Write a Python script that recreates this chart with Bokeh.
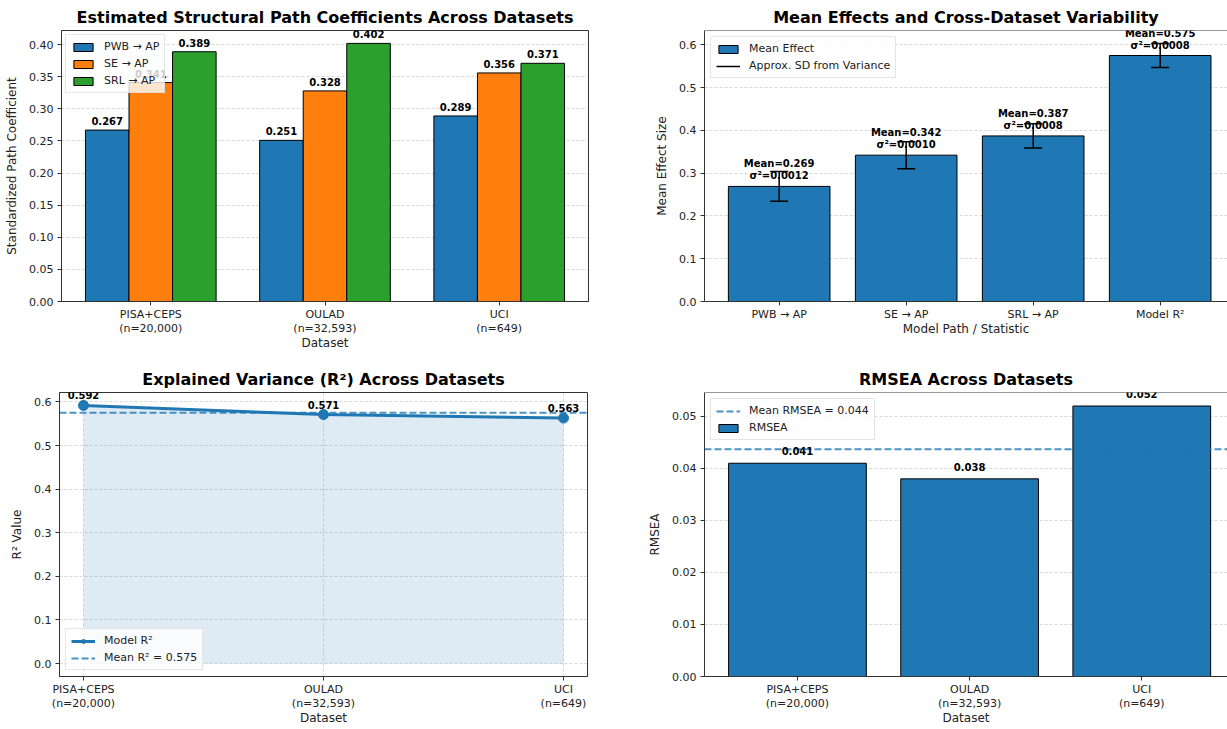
import numpy as np
from bokeh.plotting import figure
from bokeh.layouts import column, row
from bokeh.core.properties import value
from bokeh.models import (ColumnDataSource, LabelSet, Legend, LegendItem, FixedTicker,
                          Span, Whisker, TeeHead, Range1d, NumeralTickFormatter)
from bokeh.embed import file_html
from bokeh.resources import INLINE

FONT = "DejaVu Sans"
SPINE = "#333333"
BLUE, ORANGE, GREEN = "#1f77b4", "#ff7f0e", "#2ca02c"

# ---- data -------------------------------------------------------------
datasets = ["PISA+CEPS\n(n=20,000)", "OULAD\n(n=32,593)", "UCI\n(n=649)"]
path_names = ["PWB → AP", "SE → AP", "SRL → AP"]
pwb_ap = [0.267, 0.251, 0.289]
se_ap = [0.341, 0.328, 0.356]
srl_ap = [0.389, 0.402, 0.371]
coef_yticks = [0.00, 0.05, 0.10, 0.15, 0.20, 0.25, 0.30, 0.35, 0.40]

summary_labels = ["PWB → AP", "SE → AP", "SRL → AP", "Model R²"]
summary_means = [0.269, 0.342, 0.387, 0.575]
summary_vars = [0.0012, 0.0010, 0.0008, 0.0008]
summary_yticks = [0.0, 0.1, 0.2, 0.3, 0.4, 0.5, 0.6]

r2_values = [0.592, 0.571, 0.563]
r2_yticks = [0.0, 0.1, 0.2, 0.3, 0.4, 0.5, 0.6]

rmsea_values = [0.041, 0.038, 0.052]
rmsea_yticks = [0.00, 0.01, 0.02, 0.03, 0.04, 0.05]


def make_fig(title, w, h, bl, br, bt, bb, xr, yr, outline=True):
    p = figure(width=w, height=h, x_range=xr, y_range=yr, output_backend="svg",
               toolbar_location=None, min_border_left=bl, min_border_right=br,
               min_border_top=bt, min_border_bottom=bb)
    p.title.text = title
    p.title.align = "center"
    p.title.text_font = FONT
    p.title.text_font_size = "16px"
    p.title.text_font_style = "bold"
    p.title.text_color = "black"
    p.title.standoff = 7
    p.outline_line_color = SPINE if outline else None
    p.outline_line_width = 1
    if not outline:
        p.add_layout(Span(location=yr.end, dimension="width", line_color=SPINE, line_width=1))
    return p


def setup_axes(p, xticks, xlabels, yticks, yfmt, xlabel, ylabel, xgrid=False):
    p.xaxis.ticker = FixedTicker(ticks=list(xticks))
    p.xaxis.major_label_overrides = {int(t): l for t, l in zip(xticks, xlabels)}
    p.yaxis.ticker = FixedTicker(ticks=list(yticks))
    p.yaxis.formatter = NumeralTickFormatter(format=yfmt)
    p.xaxis.axis_label = xlabel
    p.yaxis.axis_label = ylabel
    for ax in (p.xaxis[0], p.yaxis[0]):
        ax.axis_line_color = SPINE
        ax.major_tick_line_color = SPINE
        ax.major_tick_out = 4
        ax.major_tick_in = 0
        ax.minor_tick_line_color = None
        ax.major_label_text_font = FONT
        ax.major_label_text_font_size = "11px"
        ax.major_label_text_color = "#222222"
        ax.axis_label_text_font = FONT
        ax.axis_label_text_font_size = "12px"
        ax.axis_label_text_font_style = "normal"
        ax.axis_label_text_color = "#222222"
    p.xaxis.major_label_standoff = 2
    p.xaxis.major_label_text_line_height = 1.15
    p.xaxis.axis_label_standoff = -2
    p.yaxis.major_label_standoff = 4
    p.yaxis.axis_label_standoff = 7
    p.ygrid.ticker = FixedTicker(ticks=list(yticks))
    p.ygrid.grid_line_color = "#b0b0b0"
    p.ygrid.grid_line_alpha = 0.5
    p.ygrid.grid_line_dash = "3 2"
    if xgrid:
        p.xgrid.ticker = FixedTicker(ticks=list(xticks))
        p.xgrid.grid_line_color = "#b0b0b0"
        p.xgrid.grid_line_alpha = 0.5
        p.xgrid.grid_line_dash = "3 2"
    else:
        p.xgrid.grid_line_color = None


def style_legend(leg, margin=5):
    leg.label_text_font = FONT
    leg.label_text_font_size = "11px"
    leg.label_text_color = "#222222"
    leg.background_fill_alpha = 0.8
    leg.border_line_color = "#cccccc"
    leg.border_line_width = 1
    leg.margin = margin
    leg.padding = 5
    leg.spacing = 4
    leg.glyph_width = 24
    leg.glyph_height = 10
    leg.label_height = 12
    leg.label_standoff = 9


def value_labels(p, x, y, texts, y_offset, size="10px"):
    src = ColumnDataSource(dict(x=x, y=y, t=texts))
    p.add_layout(LabelSet(x="x", y="y", text="t", source=src, text_align="center",
                          text_baseline="bottom", y_offset=y_offset, text_font=value(FONT),
                          text_font_size=value(size), text_font_style="bold", text_color="black"))


def mean_line(p, level, **kw):
    # horizontal reference line across the full x range at the given level
    xs = [p.x_range.start, p.x_range.end]
    return p.line(x=xs, y=[level, level], line_color=BLUE, line_alpha=0.8, line_width=2,
                  line_dash="7 3", **kw)


idx3 = np.arange(len(datasets))

# ---- panel 1: grouped path coefficients --------------------------------
bar_w = 0.25
p1 = make_fig("Estimated Structural Path Coefficients Across Datasets", 614, 364, 61, 26, 30, 63,
              Range1d(-0.5125, 2.5125), Range1d(0, max(max(pwb_ap), max(se_ap), max(srl_ap)) * 1.05))
setup_axes(p1, idx3, datasets, coef_yticks, "0.00", "Dataset", "Standardized Path Coefficient")
items1 = []
for k, (name, vals, col) in enumerate(zip(path_names, [pwb_ap, se_ap, srl_ap], [BLUE, ORANGE, GREEN])):
    xs = idx3 + (k - 1) * bar_w
    r = p1.vbar(x=xs, top=vals, width=bar_w, fill_color=col, line_color="black", line_width=1)
    items1.append(LegendItem(label=name, renderers=[r]))
    value_labels(p1, xs, vals, [f"{v:.3f}" for v in vals], 5)
leg1 = Legend(items=items1, location="top_left")
style_legend(leg1, 4)
p1.add_layout(leg1)

# ---- panel 2: mean effects with SD whiskers ----------------------------
idx4 = np.arange(len(summary_labels))
means = np.array(summary_means)
sds = np.sqrt(np.array(summary_vars))
p2 = make_fig("Mean Effects and Cross-Dataset Variability", 613, 364, 90, 0, 29, 63,
              Range1d(-0.588, 3.53), Range1d(0, (means + sds).max() * 1.05), outline=False)
setup_axes(p2, idx4, summary_labels, summary_yticks, "0.0", "Model Path / Statistic", "Mean Effect Size")
rb = p2.vbar(x=idx4, top=means, width=0.8, fill_color=BLUE, line_color="black", line_width=1)
err_src = ColumnDataSource(dict(x=idx4, lower=means - sds, upper=means + sds))
rs = p2.segment(x0="x", y0="lower", x1="x", y1="upper", source=err_src, line_color="black", line_width=1.5)
p2.add_layout(Whisker(base="x", lower="lower", upper="upper", source=err_src, line_alpha=0,
                      level="annotation",
                      upper_head=TeeHead(size=18, line_color="black", line_width=1.5),
                      lower_head=TeeHead(size=18, line_color="black", line_width=1.5)))
# two-line annotation: mean on top, variance beneath
value_labels(p2, idx4, means, [f"Mean={m:.3f}" for m in summary_means], 17)
value_labels(p2, idx4, means, [f"σ²={v:.4f}" for v in summary_vars], 5)
leg2 = Legend(items=[LegendItem(label="Mean Effect", renderers=[rb]),
                     LegendItem(label="Approx. SD from Variance", renderers=[rs])], location="top_left")
style_legend(leg2, 6)
p2.add_layout(leg2)

# ---- panel 3: explained variance line ----------------------------------
mean_r2 = float(np.mean(r2_values))
p3 = make_fig("Explained Variance (R²) Across Datasets", 614, 365, 59, 27, 26, 53,
              Range1d(-0.1, 2.1), Range1d(-0.0296, 0.6216))
setup_axes(p3, idx3, datasets, r2_yticks, "0.0", "Dataset", "R² Value", xgrid=True)
p3.varea(x=idx3, y1=np.zeros(len(r2_values)), y2=r2_values, fill_color=BLUE, fill_alpha=0.15)
rdash = mean_line(p3, mean_r2)
rl = p3.line(idx3, r2_values, line_color=BLUE, line_width=3)
rm = p3.scatter(idx3, r2_values, size=10, fill_color=BLUE, line_color=BLUE)
value_labels(p3, idx3, r2_values, [f"{v:.3f}" for v in r2_values], 6)
leg3 = Legend(items=[LegendItem(label="Model R²", renderers=[rl, rm]),
                     LegendItem(label=f"Mean R² = {mean_r2:.3f}", renderers=[rdash])],
              location="bottom_left")
style_legend(leg3, 6)
p3.add_layout(leg3)

# ---- panel 4: RMSEA bars -----------------------------------------------
mean_rmsea = float(np.mean(rmsea_values))
p4 = make_fig("RMSEA Across Datasets", 613, 365, 90, 0, 27, 53,
              Range1d(-0.54, 2.498), Range1d(0, max(rmsea_values) * 1.05), outline=False)
setup_axes(p4, idx3, datasets, rmsea_yticks, "0.00", "Dataset", "RMSEA")
rr = p4.vbar(x=idx3, top=rmsea_values, width=0.8, fill_color=BLUE, line_color="black", line_width=1)
rdash4 = mean_line(p4, mean_rmsea)
value_labels(p4, idx3, rmsea_values, [f"{v:.3f}" for v in rmsea_values], 8)
leg4 = Legend(items=[LegendItem(label=f"Mean RMSEA = {mean_rmsea:.3f}", renderers=[rdash4]),
                     LegendItem(label="RMSEA", renderers=[rr])], location="top_left")
style_legend(leg4, 6)
p4.add_layout(leg4)

layout = column(row(p1, p2), row(p3, p4))
open("out.html", "w").write(file_html(layout, INLINE))
